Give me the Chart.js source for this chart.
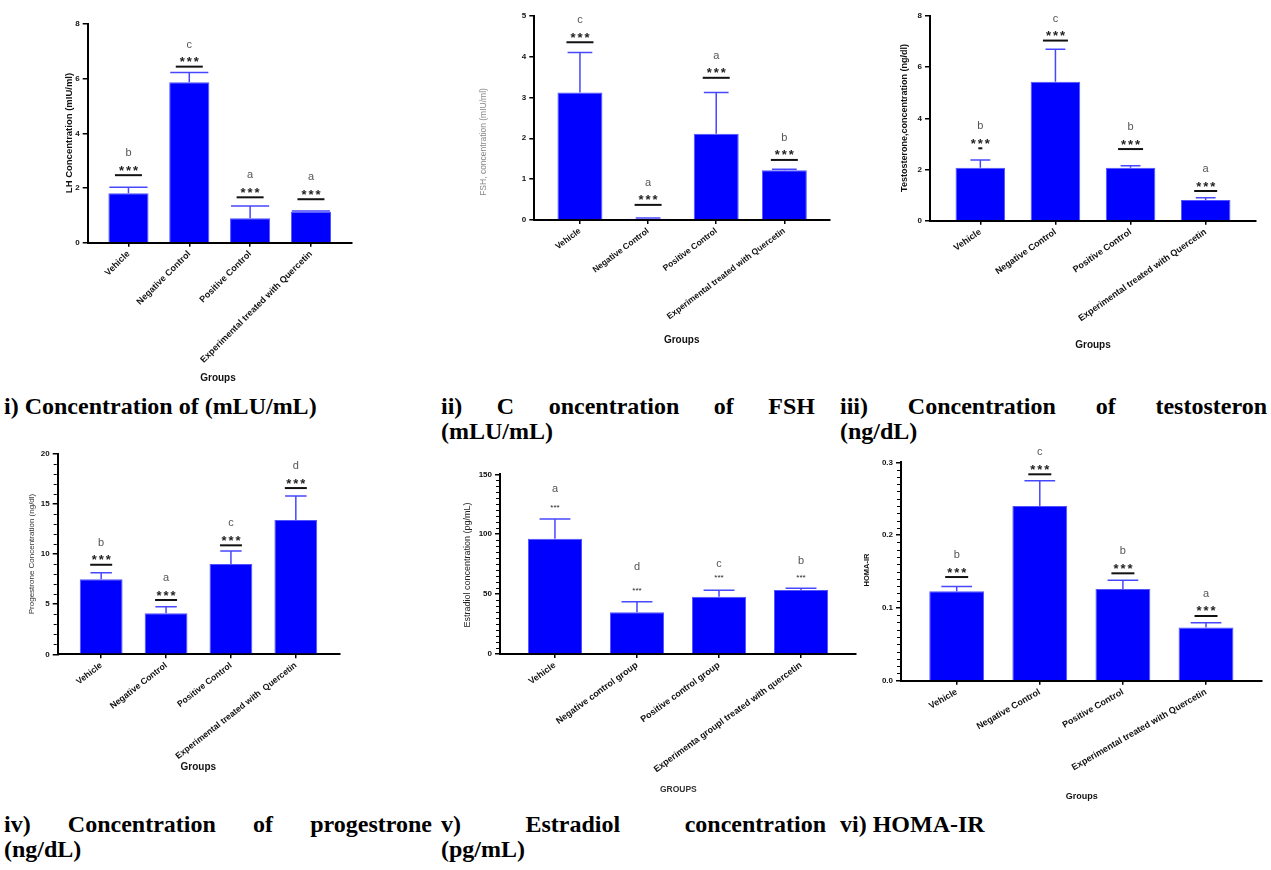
<!DOCTYPE html>
<html lang="en">
<head>
<meta charset="UTF-8">
<title>Hormone and HOMA-IR panels</title>
<script src="https://cdn.jsdelivr.net/npm/chart.js"></script>
<style>
  * { margin: 0; padding: 0; box-sizing: border-box; }
  body { width: 1271px; height: 870px; background: #fff; position: relative; overflow: hidden; }
  canvas { position: absolute; }
  .cap {
    position: absolute;
    font-family: 'Liberation Serif', 'Times New Roman', serif;
    font-weight: bold;
    font-size: 24px;
    line-height: 25px;
    color: #000;
    white-space: nowrap;
  }
  .just { text-align: justify; text-align-last: justify; white-space: normal; }
</style>
</head>
<body>
<div id="figure"></div>

<div class="cap" style="left:4px;top:394px;">i) Concentration of (mLU/mL)</div>
<div class="cap just" style="left:441px;top:394px;width:374px;">ii) C oncentration of FSH</div>
<div class="cap" style="left:441px;top:419px;">(mLU/mL)</div>
<div class="cap just" style="left:840px;top:394px;width:427px;">iii) Concentration of testosteron</div>
<div class="cap" style="left:840px;top:419px;">(ng/dL)</div>

<div class="cap just" style="left:4px;top:812px;width:428px;">iv) Concentration of progestrone</div>
<div class="cap" style="left:4px;top:837px;">(ng/dL)</div>
<div class="cap just" style="left:441px;top:812px;width:385px;">v) Estradiol concentration</div>
<div class="cap" style="left:441px;top:837px;">(pg/mL)</div>
<div class="cap" style="left:840px;top:812px;">vi) HOMA-IR</div>

<script>
// ---- data ----
const groups = ['Vehicle', 'Negative Control', 'Positive Control', 'Experimental treated with Quercetin'];
const groupsProg = ['Vehicle', 'Negative Control', 'Positive Control', 'Experimental treated with  Quercetin'];
const groupsE2 = ['Vehicle', 'Negative control group', 'Positive control group', 'Experimenta groupl treated with quercetin'];

const lhTicks = [0, 2, 4, 6, 8];
const lhMean = [1.81, 5.87, 0.89, 1.13];
const lhSD = [0.22, 0.36, 0.45, 0.03];
const lhLetters = ['b', 'c', 'a', 'a'];
const lhLine = [2.47, 6.44, 1.66, 1.59];

const fshTicks = [0, 1, 2, 3, 4, 5];
const fshMean = [3.12, 0.03, 2.11, 1.22];
const fshSD = [0.98, 0.02, 1.01, 0.02];
const fshLetters = ['c', 'a', 'a', 'b'];
const fshLine = [4.35, 0.37, 3.48, 1.47];

const testTicks = [0, 2, 4, 6, 8];
const testMean = [2.07, 5.43, 2.07, 0.81];
const testSD = [0.30, 1.27, 0.08, 0.09];
const testLetters = ['b', 'c', 'b', 'a'];
const testLine = [2.83, 7.04, 2.80, 1.16];

const progTicks = [0, 5, 10, 15, 20];
const progMean = [7.49, 4.09, 9.01, 13.40];
const progSD = [0.66, 0.66, 1.30, 2.40];
const progLetters = ['b', 'a', 'c', 'd'];
const progLine = [8.94, 5.42, 10.88, 16.6];

const e2Ticks = [0, 50, 100, 150];
const e2Mean = [96.2, 34.8, 47.8, 53.4];
const e2SD = [16.5, 8.9, 5.4, 1.4];
const e2Letters = ['a', 'd', 'c', 'b'];
const e2StarAt = [123.8, 54.8, 65.4, 65.4];
const e2LetterAt = [137.7, 72.9, 75.1, 77.6];

const homaTicks = [0, 0.1, 0.2, 0.3];
const homaMean = [0.123, 0.240, 0.126, 0.073];
const homaSD = [0.0065, 0.0347, 0.012, 0.0065];
const homaLetters = ['b', 'c', 'b', 'a'];
const homaLine = [0.1424, 0.2835, 0.1475, 0.0889];

const SANS = '"Liberation Sans", Arial, sans-serif';
Chart.defaults.font.family = SANS;

// ---- panel layout (page pixels) ----
const panels = [
  { L: 40, T: 0, W: 330, H: 390, ax0: 87.7, ay0: 24, ax1: 351.7, ay1: 242.7, rot: 45, labelSize: 9,
    labels: groups, ticks: lhTicks, mean: lhMean, sd: lhSD, letters: lhLetters, line: lhLine, lineLen: 27, capFrac: 0.95,
    yTitle: { text: 'LH Concentration (mIU/ml)', x: 69.3, y: 133, font: 'bold 9.5px ' + SANS, color: '#111' },
    xTitle: { text: 'Groups', x: 218, y: 378, font: 'bold 10px ' + SANS, color: '#111' } },
  { L: 420, T: 0, W: 420, H: 350, ax0: 534.3, ay0: 15.7, ax1: 830, ay1: 220, rot: 37, labelSize: 8.5,
    labels: groups, ticks: fshTicks, mean: fshMean, sd: fshSD, letters: fshLetters, line: fshLine, lineLen: 27, capFrac: 0.55,
    yTitle: { text: 'FSH, concentration (mIU/ml)', x: 483.3, y: 142, font: '8.5px ' + SANS, color: '#888' },
    xTitle: { text: 'Groups', x: 681.7, y: 340, font: 'bold 10px ' + SANS, color: '#111' } },
  { L: 840, T: 0, W: 431, H: 360, ax0: 930, ay0: 16, ax1: 1256, ay1: 220.7, rot: 35, labelSize: 9,
    labels: groups, ticks: testTicks, mean: testMean, sd: testSD, letters: testLetters, line: testLine, lineLen: [4, 25, 25, 23], capFrac: 0.4,
    yTitle: { text: 'Testosterone,concentration (ng/dl)', x: 905, y: 118, font: 'bold 9px ' + SANS, color: '#111' },
    xTitle: { text: 'Groups', x: 1093, y: 345, font: 'bold 10px ' + SANS, color: '#111' } },
  { L: 0, T: 440, W: 400, H: 340, ax0: 57.7, ay0: 454, ax1: 339.3, ay1: 654.3, rot: 38, labelSize: 8.7,
    labels: groupsProg, ticks: progTicks, mean: progMean, sd: progSD, letters: progLetters, line: progLine, lineLen: 22, capFrac: 0.5, minor: 1,
    yTitle: { text: 'Progestrone Concentration (ng/dl)', x: 31.7, y: 554, font: '8px ' + SANS, color: '#333' },
    xTitle: { text: 'Groups', x: 198.3, y: 767.7, font: 'bold 10px ' + SANS, color: '#111' } },
  { L: 420, T: 460, W: 440, H: 340, ax0: 500, ay0: 474.3, ax1: 856, ay1: 654, rot: 36, labelSize: 9,
    labels: groupsE2, ticks: e2Ticks, mean: e2Mean, sd: e2SD, letters: e2Letters, starAt: e2StarAt, letterAt: e2LetterAt, capFrac: 0.57, minor: 5,
    yTitle: { text: 'Estradiol concentration (pg/mL)', x: 467.3, y: 565, font: '9px ' + SANS, color: '#222' },
    xTitle: { text: 'GROUPS', x: 678.3, y: 790, font: 'bold 8.5px ' + SANS, color: '#333' } },
  { L: 850, T: 445, W: 421, H: 360, ax0: 901, ay0: 462.3, ax1: 1261.7, ay1: 680.7, rot: 30, labelSize: 9,
    labels: groups, ticks: homaTicks, mean: homaMean, sd: homaSD, letters: homaLetters, line: homaLine, lineLen: 23, capFrac: 0.56, minor: 0.01, fmt: 1,
    yTitle: { text: 'HOMA-IR', x: 866.7, y: 570, font: 'bold 7.5px ' + SANS, color: '#111' },
    xTitle: { text: 'Groups', x: 1081.7, y: 796.7, font: 'bold 9px ' + SANS, color: '#111' } }
];

// error bars, significance marks, minor ticks and axis titles
function decor(p) {
  return {
    id: 'decor',
    afterDraw(chart) {
      const ctx = chart.ctx;
      const ys = chart.scales.y;
      const bars = chart.getDatasetMeta(0).data;
      ctx.save();

      if (p.minor) {
        const n = Math.round(ys.max / p.minor);
        const every = Math.round(p.ticks[1] / p.minor);
        ctx.strokeStyle = '#000';
        ctx.lineWidth = 1;
        for (let k = 1; k < n; k++) {
          if (k % every === 0) continue;
          const py = Math.round(ys.getPixelForValue(k * p.minor)) + 0.5;
          ctx.beginPath();
          ctx.moveTo(ys.right - 1, py);
          ctx.lineTo(ys.right - 4, py);
          ctx.stroke();
        }
      }

      bars.forEach((bar, i) => {
        const cx = bar.x;
        const top = ys.getPixelForValue(p.mean[i] + p.sd[i]);
        const half = bar.width * p.capFrac / 2;
        ctx.strokeStyle = '#4747ff';
        ctx.lineWidth = 1.5;
        ctx.beginPath();
        ctx.moveTo(cx, bar.y);
        ctx.lineTo(cx, top);
        ctx.moveTo(cx - half, top);
        ctx.lineTo(cx + half, top);
        ctx.stroke();

        let starY, letterY;
        if (p.line) {
          const ly = ys.getPixelForValue(p.line[i]);
          const len = Array.isArray(p.lineLen) ? p.lineLen[i] : p.lineLen;
          ctx.strokeStyle = '#111';
          ctx.lineWidth = 2;
          ctx.beginPath();
          ctx.moveTo(cx - len / 2, ly);
          ctx.lineTo(cx + len / 2, ly);
          ctx.stroke();
          starY = ly - 8;
          letterY = ly - 22;
        } else {
          starY = ys.getPixelForValue(p.starAt[i]);
          letterY = ys.getPixelForValue(p.letterAt[i]);
        }

        ctx.textAlign = 'center';
        ctx.textBaseline = 'alphabetic';
        ctx.fillStyle = '#222';
        if (p.line) {
          ctx.font = 'bold 13px ' + SANS;
          [-7, 0, 7].forEach(d => ctx.fillText('*', cx + d, starY + 7.5));
        } else {
          ctx.font = '8px ' + SANS;
          ctx.fillText('***', cx, starY + 4.5);
        }

        ctx.fillStyle = '#555';
        ctx.font = '11px ' + SANS;
        ctx.textBaseline = 'middle';
        ctx.fillText(p.letters[i], cx, letterY);
      });

      const yt = p.yTitle;
      ctx.save();
      ctx.fillStyle = yt.color;
      ctx.font = yt.font;
      ctx.textAlign = 'center';
      ctx.textBaseline = 'middle';
      ctx.translate(yt.x - p.L, yt.y - p.T);
      ctx.rotate(-Math.PI / 2);
      ctx.fillText(yt.text, 0, 0);
      ctx.restore();

      const xt = p.xTitle;
      ctx.fillStyle = xt.color;
      ctx.font = xt.font;
      ctx.textAlign = 'center';
      ctx.textBaseline = 'middle';
      ctx.fillText(xt.text, xt.x - p.L, xt.y - p.T);

      ctx.restore();
    }
  };
}

function makePanel(p) {
  const cv = document.createElement('canvas');
  cv.width = p.W;
  cv.height = p.H;
  cv.style.left = p.L + 'px';
  cv.style.top = p.T + 'px';
  document.getElementById('figure').appendChild(cv);

  return new Chart(cv, {
    type: 'bar',
    data: {
      datasets: [{
        data: p.mean.map((v, i) => ({ x: i, y: v })),
        backgroundColor: '#0000ff',
        borderColor: '#5252ff',
        borderWidth: 1,
        barPercentage: 0.66,
        categoryPercentage: 1
      }]
    },
    options: {
      responsive: false,
      animation: false,
      events: [],
      layout: { padding: { left: 0, top: p.ay0 - p.T, right: p.L + p.W - p.ax1, bottom: 0 } },
      plugins: { legend: { display: false }, tooltip: { enabled: false } },
      scales: {
        x: {
          type: 'linear',
          min: -0.67,
          max: 3.67,
          offset: false,
          z: 1,
          afterBuildTicks: s => { s.ticks = p.labels.map((_, i) => ({ value: i })); },
          afterFit: s => { s.height = p.T + p.H - p.ay1; },
          grid: { offset: false, drawOnChartArea: false, tickLength: 4, color: '#000', lineWidth: 1.5 },
          border: { color: '#000', width: 2 },
          ticks: {
            autoSkip: false,
            minRotation: p.rot,
            maxRotation: p.rot,
            padding: 2,
            color: '#111',
            font: { size: p.labelSize, weight: 'bold' },
            callback: v => p.labels[v]
          }
        },
        y: {
          min: 0,
          max: p.ticks[p.ticks.length - 1],
          z: 1,
          afterBuildTicks: s => { s.ticks = p.ticks.map(v => ({ value: v })); },
          afterFit: s => { s.width = p.ax0 - p.L; },
          grid: { drawOnChartArea: false, tickLength: 5, color: '#000', lineWidth: 1.5 },
          border: { color: '#000', width: 2 },
          ticks: {
            padding: 3,
            color: '#111',
            font: { size: 8, weight: 'bold' },
            callback: v => p.fmt ? v.toFixed(p.fmt) : v
          }
        }
      }
    },
    plugins: [decor(p)]
  });
}

panels.forEach(makePanel);
</script>
</body>
</html>
